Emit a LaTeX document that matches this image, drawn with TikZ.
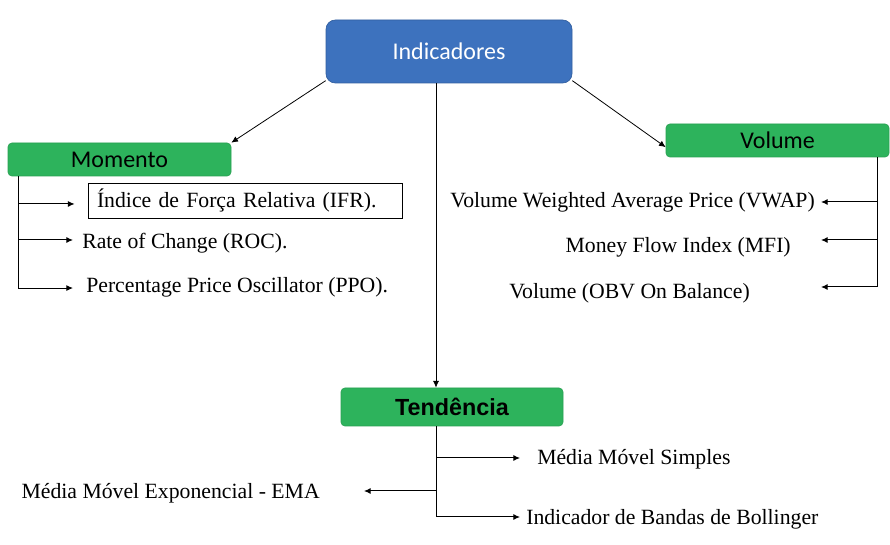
\documentclass[tikz,border=0pt]{standalone}
\usepackage{fontspec}
\setmainfont{Liberation Serif}
\newfontfamily\calib{Carlito}
\newfontfamily\arialf{Liberation Sans}
\usetikzlibrary{arrows.meta}
\definecolor{indblue}{RGB}{61,114,190}
\definecolor{indedge}{RGB}{50,95,160}
\definecolor{catgreen}{RGB}{45,179,92}
\definecolor{catedge}{RGB}{40,160,82}
\begin{document}
\begin{tikzpicture}[x=0.75pt,y=-0.75pt,
  arr/.style={-{Latex[length=5pt,width=4.5pt]},line width=0.75pt,black},
  topbox/.style={rectangle,rounded corners=7pt,fill=indblue,draw=indedge,line width=0.5pt,
    text=white,font=\calib\fontsize{18}{21}\selectfont,minimum width=184.5pt,minimum height=47.25pt},
  catbox/.style={rectangle,rounded corners=3pt,fill=catgreen,draw=catedge,line width=0.5pt,
    text=black,font=\calib\fontsize{18}{21}\selectfont,minimum width=167.25pt,minimum height=24.75pt},
  item/.style={inner sep=0pt,font=\fontsize{16.3}{19}\selectfont,text=black}
]
\useasboundingbox (0,0) rectangle (890,545);
\fill[white] (0,0) rectangle (890,545);

% main nodes
\node[topbox] (ind) at (449,51.5) {Indicadores};
\node[catbox] (mom) at (119.5,159.5) {Momento};
\node[catbox] (vol) at (777.5,140.5) {Volume};
\node[catbox,minimum width=166.5pt,minimum height=28.5pt,font=\arialf\bfseries\fontsize{17.5}{20}\selectfont] (ten) at (452,407) {Tendência};

% Momento items
\node[item,draw=black,line width=0.6pt,minimum width=235.5pt,minimum height=26.25pt,
      text width=222pt,inner xsep=6.75pt,align=left] (ifr) at (245,200.5) {Índice de Força Relativa (IFR).};
\node[item,anchor=west] (roc) at (82,243) {Rate of Change (ROC).};
\node[item,anchor=west] (ppo) at (86,287.5) {Percentage Price Oscillator (PPO).};

% Volume items
\node[item,anchor=east] (vwap) at (815,202) {Volume Weighted Average Price (VWAP)};
\node[item,anchor=east] (mfi) at (791,247) {Money Flow Index (MFI)};
\node[item,anchor=east] (obv) at (750,293) {Volume (OBV On Balance)};

% Tendencia items
\node[item,anchor=west] (mms) at (537,459) {Média Móvel Simples};
\node[item,anchor=east] (ema) at (320,493) {Média Móvel Exponencial - EMA};
\node[item,anchor=west] (bol) at (526,519) {Indicador de Bandas de Bollinger};

% arrow target points
\coordinate (ifrin) at ([yshift=-2.6pt]ifr.west);
\coordinate (rocin) at ([yshift=2.25pt]roc.west);
\coordinate (ppoin) at ([yshift=-0.4pt]ppo.west);
\coordinate (mfiin) at ([yshift=5.25pt]mfi.east);
\coordinate (obvin) at ([yshift=4.5pt]obv.east);
\coordinate (mmsin) at ([yshift=0.75pt]mms.west);
\coordinate (emain) at ([yshift=1.5pt]ema.east);
\coordinate (bolin) at ([yshift=1.5pt]bol.west);

% top connectors
\draw[arr,line width=0.6pt] ([yshift=2pt]ind.south west) -- (mom.north east);
\draw[arr,line width=0.6pt] ([yshift=2pt]ind.south east) -- ([yshift=-5pt]vol.west);
\draw[arr,line width=0.6pt] ([xshift=-9.75pt]ind.south) -- ([xshift=-9.75pt]ind.south |- ten.north);

% Momento tree
\coordinate (mt) at ([xshift=8.25pt]mom.south west);
\draw[arr,shorten >=9.75pt] (mt |- ifrin) -- (ifrin);
\draw[arr,shorten >=6.75pt] (mt |- rocin) -- (rocin);
\draw[arr,shorten >=9.75pt] (mt) |- (ppoin);

% Volume tree
\coordinate (vt) at ([xshift=-9pt]vol.south east);
\draw[arr,shorten >=4.5pt] (vt |- vwap.east) -- (vwap.east);
\draw[arr,shorten >=22.5pt] (vt |- mfiin) -- (mfiin);
\draw[arr,shorten >=53.25pt] (vt) |- (obvin);

% Tendencia tree
\coordinate (tt) at ([xshift=-12pt]ten.south);
\draw[arr,shorten >=12.75pt] (tt |- mmsin) -- (mmsin);
\draw[arr,shorten >=33pt] (tt |- emain) -- (emain);
\draw[arr,shorten >=4.5pt] (tt) |- (bolin);
\end{tikzpicture}
\end{document}
